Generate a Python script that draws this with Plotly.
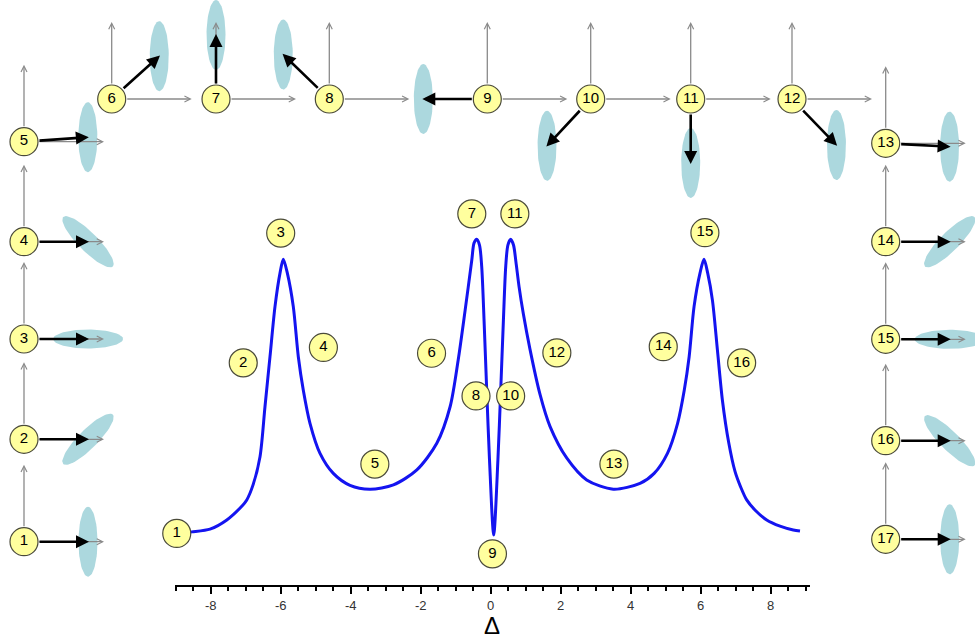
import numpy as np
import plotly.graph_objects as go

# ---------------- data ----------------
# detuning axis and signal
delta = [-8.71, -8.54, -8.02, -7.54, -7.16, -6.97, -6.79, -6.591, -6.449, -6.306,
         -6.163, -6.02, -5.926, -5.81, -5.64, -5.497, -5.354, -5.163, -4.877, -4.497,
         -4.02, -3.45, -2.78, -2.11, -1.54, -1.16, -0.93, -0.73, -0.54, -0.477,
         -0.40, -0.32, -0.257, -0.19, -0.114, -0.034, 0.086, 0.206, 0.286, 0.363,
         0.429, 0.491, 0.571, 0.651, 0.72, 0.81, 0.931, 1.123, 1.409, 1.694, 2.171,
         2.743, 3.503, 4.266, 4.67, 5.05, 5.34, 5.53, 5.67, 5.81, 5.98,
         6.094, 6.20, 6.335, 6.478, 6.62, 6.80, 6.98, 7.14, 7.314, 7.55,
         7.886, 8.266, 8.646, 8.837]
signal = [0.136, 0.138, 0.145, 0.169, 0.200, 0.221, 0.260, 0.333, 0.463, 0.593,
          0.723, 0.810, 0.846, 0.810, 0.723, 0.593, 0.506, 0.420, 0.342, 0.290,
          0.259, 0.249, 0.260, 0.299, 0.368, 0.463, 0.584, 0.714, 0.844, 0.888,
          0.898, 0.883, 0.827, 0.688, 0.506, 0.325, 0.130, 0.325, 0.506, 0.688,
          0.827, 0.883, 0.898, 0.883, 0.840, 0.775, 0.705, 0.612, 0.495, 0.412, 0.330,
          0.273, 0.249, 0.264, 0.290, 0.342, 0.420, 0.506, 0.593, 0.723, 0.810,
          0.846, 0.810, 0.740, 0.610, 0.480, 0.370, 0.295, 0.255, 0.221, 0.195,
          0.169, 0.153, 0.143, 0.140]

step_labels = [str(i) for i in range(1, 18)]
# where the numbered markers sit on the curve panel
label_delta = [-8.97, -7.07, -6.00, -4.78, -3.31, -1.69, -0.54, -0.42, 0.05,
               0.57, 0.69, 1.89, 3.52, 4.93, 6.12, 7.17, 9.14]
label_value = [0.134, 0.577, 0.914, 0.617, 0.314, 0.602, 0.964, 0.491, 0.081,
               0.491, 0.964, 0.603, 0.314, 0.619, 0.915, 0.577, 0.134]

# field-vector direction (deg) and polarisation-ellipse tilt (deg) per step
field_angle = [0, 0, 0, 0, 4, 42, 90, 136, 180, 227, 270, 314, -3, 0, 0, 0, 0]
ellipse_tilt = [90, 45, 0, -45, 90, 90, 90, 90, 90, 90, 90, 90, 90, 45, 0, -45, 90]

tick_vals = [-8, -6, -4, -2, 0, 2, 4, 6, 8]
tick_text = ["-8", "-6", "-4", "-2", "0", "2", "4", "6", "8"]

# ---------------- layout constants (pixels) ----------------
W, H = 975, 640
node_x = [24] * 5 + [111.7, 216, 329.3, 487.3, 590.7, 690.7, 792] + [885.7] * 5
node_y = [541.7, 439.3, 339, 241.7, 141.7] + [99] * 7 + [143.3, 241.7, 339.3, 440.7, 539.3]
R = 14
ARROW_LEN = 65
ELL_OFF = 64
ELL_A, ELL_B = 35, 9.5
UP_LEN, RIGHT_LEN = 77, 80

YELLOW = "#ffff9e"
OUTLINE = "#4a4a3a"
ELL_COL = "#acd8de"
GRAY = "#8a8a8a"

x_lo, x_hi = -9.02, 9.12
px_per_unit = 35
zero_px = 490.7
x0_px = zero_px + x_lo * px_per_unit
x1_px = zero_px + x_hi * px_per_unit
axis_px, top_px = 585, 200

fig = go.Figure()

# curve
fig.add_trace(go.Scatter(x=delta, y=signal, mode="lines",
                         line=dict(color="#1414f0", width=3, shape="spline", smoothing=0.8),
                         hoverinfo="skip", showlegend=False, cliponaxis=False))
# numbered markers on curve
fig.add_trace(go.Scatter(x=label_delta, y=label_value, mode="markers+text",
                         text=step_labels, textposition="middle center",
                         textfont=dict(family="Liberation Sans, Arial", size=15, color="black"),
                         marker=dict(size=2 * R, color=YELLOW, line=dict(color=OUTLINE, width=1.2)),
                         hoverinfo="skip", showlegend=False, cliponaxis=False))

# ellipses (overlay pixel axes)
t = np.linspace(0, 2 * np.pi, 73)
for i in range(17):
    fa = np.radians(field_angle[i])
    cx = node_x[i] + ELL_OFF * np.cos(fa)
    cy = node_y[i] - ELL_OFF * np.sin(fa)
    ta = np.radians(ellipse_tilt[i])
    ex = ELL_A * np.cos(t)
    ey = ELL_B * np.sin(t)
    xs = cx + ex * np.cos(ta) - ey * np.sin(ta)
    ys = cy - (ex * np.sin(ta) + ey * np.cos(ta))
    fig.add_trace(go.Scatter(x=xs, y=ys, xaxis="x2", yaxis="y2", mode="lines",
                             fill="toself", fillcolor=ELL_COL, line=dict(width=0, color=ELL_COL),
                             hoverinfo="skip", showlegend=False, cliponaxis=False))

# diagram nodes
fig.add_trace(go.Scatter(x=node_x, y=node_y, xaxis="x2", yaxis="y2", mode="markers+text",
                         text=step_labels, textposition="middle center",
                         textfont=dict(family="Liberation Sans, Arial", size=15, color="black"),
                         marker=dict(size=2 * R, color=YELLOW, line=dict(color=OUTLINE, width=1.2)),
                         hoverinfo="skip", showlegend=False, cliponaxis=False))

annotations = []
for i in range(17):
    xn, yn = node_x[i], node_y[i]
    # gray frame arrows
    for (tx, ty) in [(xn, yn - UP_LEN), (xn + RIGHT_LEN, yn)]:
        annotations.append(dict(x=tx, y=ty, ax=xn, ay=yn, xref="x2", yref="y2",
                                axref="x2", ayref="y2", text="", showarrow=True,
                                arrowhead=5, arrowsize=0.9, arrowwidth=1.3,
                                arrowcolor=GRAY, startstandoff=R, standoff=0))
    fa = np.radians(field_angle[i])
    tx = xn + ARROW_LEN * np.cos(fa)
    ty = yn - ARROW_LEN * np.sin(fa)
    annotations.append(dict(x=tx, y=ty, ax=xn, ay=yn, xref="x2", yref="y2",
                            axref="x2", ayref="y2", text="", showarrow=True,
                            arrowhead=2, arrowsize=1.0, arrowwidth=2.6,
                            arrowcolor="black", startstandoff=R, standoff=0))

annotations.append(dict(x=zero_px / W + 0.001, y=1 - 640 / H, xref="paper", yref="paper",
                        text="Δ", showarrow=False, xanchor="center", yanchor="bottom",
                        borderpad=0,
                        font=dict(family="Liberation Sans, Arial", size=24, color="black")))

fig.update_layout(
    width=W, height=H, margin=dict(l=0, r=0, t=0, b=0),
    paper_bgcolor="white", plot_bgcolor="rgba(0,0,0,0)",
    showlegend=False, annotations=annotations,
    xaxis=dict(domain=[x0_px / W, x1_px / W], range=[x_lo, x_hi], anchor="y",
               showgrid=False, zeroline=False, showline=True, linecolor="black", linewidth=2,
               ticks="outside", tickvals=tick_vals, ticktext=tick_text, ticklen=7,
               tickwidth=2, tickcolor="black",
               tickfont=dict(family="Liberation Sans, Arial", size=13, color="#333333"),
               minor=dict(dtick=0.5, tick0=0, ticks="outside", ticklen=4, tickwidth=1.5,
                          tickcolor="black", showgrid=False)),
    yaxis=dict(domain=[1 - axis_px / H, 1 - top_px / H], range=[0, 1], anchor="x",
               visible=False, showgrid=False, zeroline=False),
    xaxis2=dict(domain=[0, 1], range=[0, W], anchor="y2", visible=False, showgrid=False),
    yaxis2=dict(domain=[0, 1], range=[H, 0], anchor="x2", visible=False, showgrid=False),
)

fig.write_html("out.html", config={"displayModeBar": False},
               post_script="document.body.style.margin='0';document.body.style.overflow='hidden';")
